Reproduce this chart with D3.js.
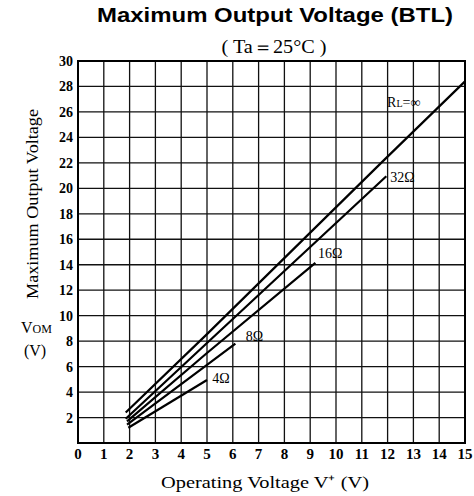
<!DOCTYPE html>
<html>
<head>
<meta charset="utf-8">
<script src="https://cdn.jsdelivr.net/npm/d3@7"></script>
<style>
  body { margin: 0; background: #fff; }
  svg { display: block; }
</style>
</head>
<body>
<div id="chart"></div>
<script>
// operating voltage ticks (x) and output voltage ticks (y)
const xTicks = d3.range(0, 16);
const yTicks = [2, 4, 6, 8, 10, 12, 14, 16, 18, 20, 22, 24, 26, 28, 30];

// curves: [V+, Vom]
const loadNames = ['RL=∞', '32Ω', '16Ω', '8Ω', '4Ω'];
const rInf = [[1.85, 2.4], [5, 8.55], [11.8, 22.1], [15, 28.4]];
const r32 = [[1.85, 1.9], [5, 7.85], [11.95, 20.95]];
const r16 = [[1.9, 1.7], [5, 7.07], [9.2, 14.15]];
const r8 = [[1.9, 1.45], [5, 6.13], [6.1, 7.8]];
const r4 = [[1.95, 1.2], [5.0, 4.95]];
const curves = [rInf, r32, r16, r8, r4];

const width = 474, height = 496;
const margin = {top: 61, right: 9, bottom: 53, left: 78};

const svg = d3.select('#chart').append('svg')
  .attr('width', width)
  .attr('height', height);

const x = d3.scaleLinear().domain([0, 15]).range([margin.left, width - margin.right]);
const y = d3.scaleLinear().domain([0, 30]).range([height - margin.bottom, margin.top]);

// grid
svg.append('g')
  .selectAll('line')
  .data(xTicks.slice(1, -1))
  .enter().append('line')
  .attr('x1', d => x(d)).attr('x2', d => x(d))
  .attr('y1', y(0)).attr('y2', y(30))
  .attr('stroke', '#111').attr('stroke-width', 1.3);

svg.append('g')
  .selectAll('line')
  .data(yTicks.slice(0, -1))
  .enter().append('line')
  .attr('x1', x(0)).attr('x2', x(15))
  .attr('y1', d => y(d)).attr('y2', d => y(d))
  .attr('stroke', '#111').attr('stroke-width', 1.3);

svg.append('rect')
  .attr('x', x(0)).attr('y', y(30))
  .attr('width', x(15) - x(0)).attr('height', y(0) - y(30))
  .attr('fill', 'none').attr('stroke', '#000').attr('stroke-width', 2);

// tick labels
const tickFont = '"Liberation Serif", serif';
svg.append('g')
  .selectAll('text')
  .data(xTicks)
  .enter().append('text')
  .attr('x', d => x(d)).attr('y', y(0) + 16)
  .attr('text-anchor', 'middle')
  .attr('font-family', tickFont).attr('font-weight', 'bold').attr('font-size', 15)
  .text(d => d);

svg.append('g')
  .selectAll('text')
  .data(yTicks)
  .enter().append('text')
  .attr('x', x(0) - 5).attr('y', d => y(d) + 5)
  .attr('text-anchor', 'end')
  .attr('font-family', tickFont).attr('font-weight', 'bold').attr('font-size', 14)
  .text(d => d);

// curves
const line = d3.line().x(d => x(d[0])).y(d => y(d[1]));
svg.append('g')
  .selectAll('path')
  .data(curves)
  .enter().append('path')
  .attr('d', line)
  .attr('fill', 'none').attr('stroke', '#000').attr('stroke-width', 2.2);

// curve labels, just past the end of each curve
const labelPos = [[11.98, 26.4], [12.1, 20.5], [9.3, 14.5], [6.5, 8.0], [5.2, 4.7]];
const labels = svg.append('g')
  .selectAll('text')
  .data(loadNames)
  .enter().append('text')
  .attr('x', (d, i) => x(labelPos[i][0]))
  .attr('y', (d, i) => y(labelPos[i][1]))
  .attr('font-family', tickFont).attr('font-size', 14);

labels.each(function(d) {
  const t = d3.select(this);
  if (d.startsWith('RL')) {
    t.append('tspan').text('R');
    t.append('tspan').attr('font-size', 10).text('L');
    t.append('tspan').text('=∞');
  } else {
    t.text(d);
  }
});

// titles
svg.append('text')
  .attr('x', 275).attr('y', 22)
  .attr('text-anchor', 'middle')
  .attr('font-family', '"Liberation Sans", Arial, sans-serif')
  .attr('font-weight', 'bold').attr('font-size', 21)
  .attr('textLength', 356).attr('lengthAdjust', 'spacingAndGlyphs')
  .text('Maximum Output Voltage (BTL)');

svg.append('text')
  .attr('x', 274).attr('y', 53)
  .attr('text-anchor', 'middle')
  .attr('font-family', tickFont).attr('font-size', 18)
  .attr('textLength', 105).attr('lengthAdjust', 'spacingAndGlyphs')
  .text('( Ta＝25°C )');

svg.append('text')
  .attr('x', 265).attr('y', 488)
  .attr('text-anchor', 'middle')
  .attr('font-family', tickFont).attr('font-size', 17)
  .attr('textLength', 208).attr('lengthAdjust', 'spacingAndGlyphs')
  .text('Operating  Voltage V⁺ (V)');

svg.append('text')
  .attr('transform', 'translate(38,204) rotate(-90)')
  .attr('text-anchor', 'middle')
  .attr('font-family', tickFont).attr('font-size', 16)
  .attr('textLength', 190).attr('lengthAdjust', 'spacingAndGlyphs')
  .text('Maximum Output Voltage');

const vom = svg.append('text')
  .attr('x', 21).attr('y', 333)
  .attr('font-family', tickFont).attr('font-size', 16);
vom.append('tspan').text('V');
vom.append('tspan').attr('font-size', 12).text('OM');

svg.append('text')
  .attr('x', 35).attr('y', 356)
  .attr('text-anchor', 'middle')
  .attr('font-family', tickFont).attr('font-size', 16)
  .text('(V)');
</script>
</body>
</html>
